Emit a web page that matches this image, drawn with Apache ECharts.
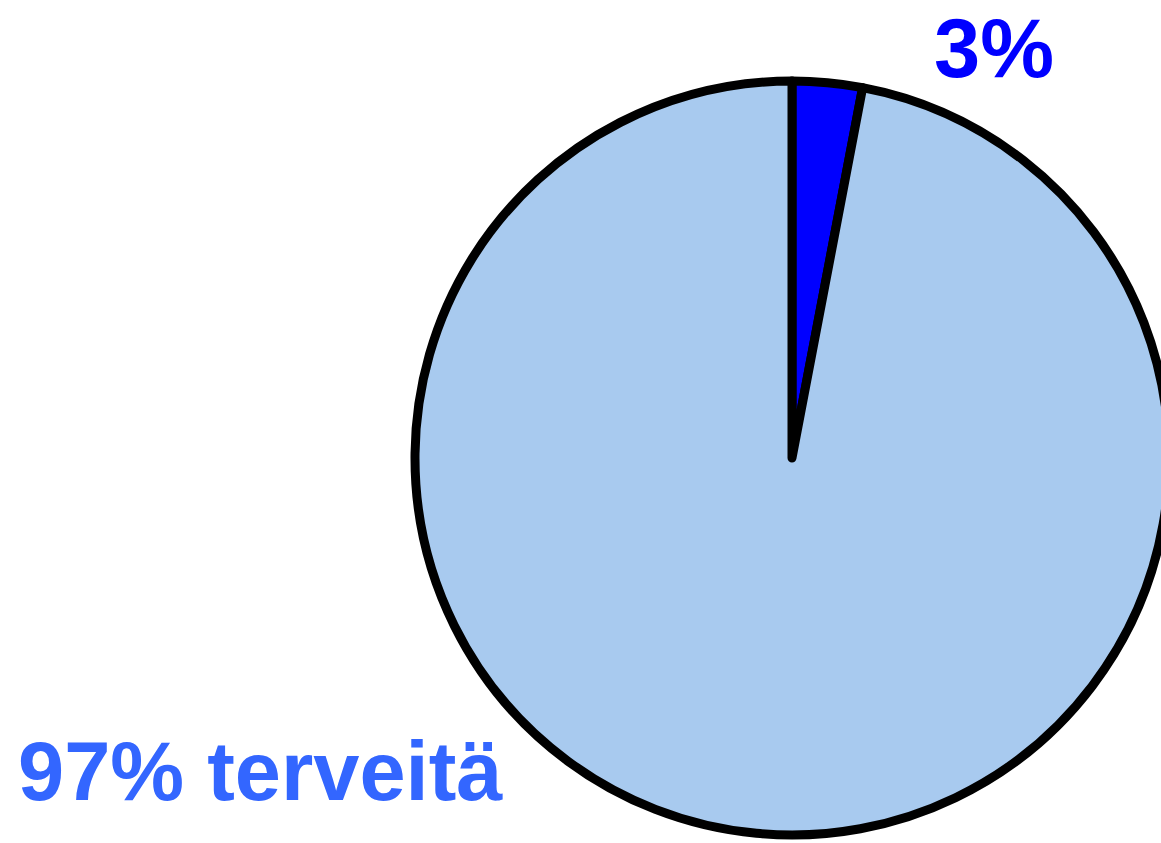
<!DOCTYPE html>
<html>
<head>
<meta charset="utf-8">
<script src="https://cdn.jsdelivr.net/npm/echarts@6/dist/echarts.min.js"></script>
<style>
  html, body { margin: 0; padding: 0; background: #fff; }
  #chart { width: 1161px; height: 843px; }
</style>
</head>
<body>
<div id="chart"></div>
<script>
// data
var sliceNames = ['sairaita', 'terveitä'];
var sliceValues = [3, 97];
var sliceLabels = ['3%', '97% terveitä'];

var sliceColors = ['#0000FF', '#A8CAEF'];
var labelColors = ['#0000FF', '#3366FF'];
// where each label sits (left/center x, middle y)
var labelSpots = [
  { x: 994, y: 48, align: 'center' },
  { x: 18, y: 771, align: 'left' }
];

var chart = echarts.init(document.getElementById('chart'), null, { renderer: 'svg' });

var option = {
  animation: false,
  series: [{
    type: 'pie',
    center: [792, 458],
    radius: [0, 377],
    startAngle: 90,
    clockwise: true,
    silent: true,
    data: sliceNames.map(function (n, i) {
      return {
        name: n,
        value: sliceValues[i],
        itemStyle: { color: sliceColors[i] },
        label: { color: labelColors[i] }
      };
    }),
    itemStyle: {
      borderColor: '#000',
      borderWidth: 9,
      borderJoin: 'round'
    },
    label: {
      show: true,
      position: 'outside',
      fontFamily: '"Liberation Sans", Arial, sans-serif',
      fontWeight: 'bold',
      fontSize: 83,
      formatter: function (p) { return sliceLabels[p.dataIndex]; }
    },
    labelLine: { show: false },
    labelLayout: function (p) {
      var s = labelSpots[p.dataIndex];
      return { x: s.x, y: s.y, align: s.align, verticalAlign: 'middle', moveOverlap: false, hideOverlap: false };
    }
  }]
};

chart.setOption(option);
</script>
</body>
</html>
